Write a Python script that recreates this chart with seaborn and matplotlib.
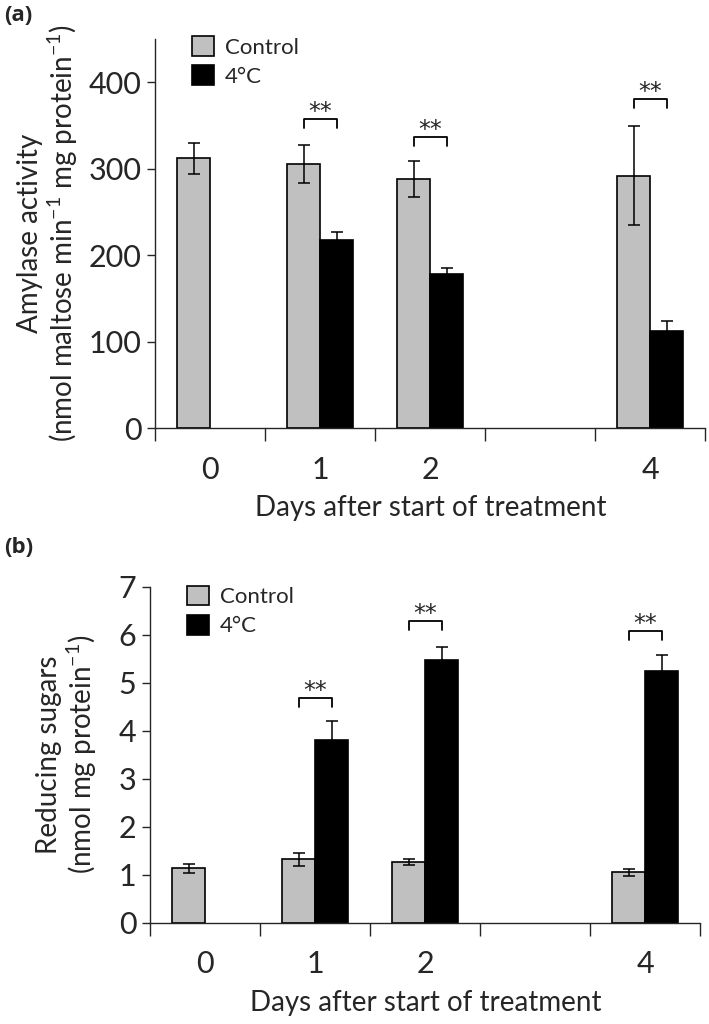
import numpy as np
import pandas as pd
import matplotlib
matplotlib.use("Agg")
import matplotlib.pyplot as plt
import seaborn as sns

# categories (day 3 is an empty slot on the axis)
days = ["0", "1", "2", "3", "4"]
tick_labels = ["0", "1", "2", "", "4"]
groups = ["Control", "4°C"]
colors = {"Control": "#c0c0c0", "4°C": "black"}

# panel (a) amylase activity
amy_day = ["0", "1", "2", "4", "1", "2", "4"]
amy_group = ["Control"] * 4 + ["4°C"] * 3
amy_mean = [312, 305, 288, 292, 218, 178, 112]
amy_err = [18, 22, 21, 57, 9, 7, 12]
amy_sig_day = ["1", "2", "4"]
amy_sig_y = [347, 326, 370]

# panel (b) reducing sugars
sug_day = ["0", "1", "2", "4", "1", "2", "4"]
sug_group = ["Control"] * 4 + ["4°C"] * 3
sug_mean = [1.13, 1.32, 1.27, 1.05, 3.80, 5.47, 5.24]
sug_err = [0.09, 0.14, 0.06, 0.07, 0.40, 0.28, 0.33]
sug_sig_day = ["1", "2", "4"]
sug_sig_y = [4.50, 6.10, 5.89]

sns.set_style("ticks")
plt.rcParams["font.family"] = ["Lato", "DejaVu Sans"]
plt.rcParams["mathtext.fontset"] = "custom"
plt.rcParams["mathtext.rm"] = "Lato"
plt.rcParams["mathtext.it"] = "Lato:italic"
plt.rcParams["mathtext.bf"] = "Lato:bold"
plt.rcParams["axes.linewidth"] = 1.0


def draw_panel(ax, day, grp, mean, err, sig_day, sig_y, leg_h, ymax, yticks, ylabel, labelpad):
    df = pd.DataFrame({"day": day, "group": grp, "value": mean, "err": err})
    sns.barplot(data=df, x="day", y="value", hue="group", order=days, hue_order=groups,
                palette=colors, width=0.6, saturation=1, edgecolor="black",
                linewidth=1.2, errorbar=None, ax=ax)

    # error bars and bracket positions taken from the drawn bars
    pos = {}
    for p in ax.patches:
        h = p.get_height()
        if not np.isfinite(h) or h == 0:
            continue
        hit = np.where(np.isclose(df["value"], h))[0]
        if len(hit) == 0:
            continue
        row = df.iloc[hit[0]]
        cx = p.get_x() + p.get_width() / 2
        pos[(row["day"], row["group"])] = cx
        ax.errorbar(cx, h, yerr=row["err"], fmt="none", ecolor="black",
                    elinewidth=1.1, capsize=4, capthick=1.1, zorder=3)

    for d, y in zip(sig_day, sig_y):
        x0, x1 = pos[(d, "Control")], pos[(d, "4°C")]
        ax.plot([x0, x0, x1, x1], [y, y + leg_h, y + leg_h, y], color="black", lw=1.3)
        ax.annotate("**", xy=((x0 + x1) / 2, y + leg_h), xytext=(0, 0),
                    textcoords="offset points", ha="center", va="baseline",
                    fontsize=17, family="DejaVu Sans")

    ax.set_xlim(-0.5, 4.5)
    ax.set_ylim(0, ymax)
    ax.set_yticks(yticks)
    ax.set_xticks(range(len(days)))
    ax.set_xticklabels(tick_labels)
    ax.set_xticks(np.arange(-0.5, len(days), 1), minor=True)
    ax.tick_params(axis="x", which="major", length=0, pad=20, labelsize=22)
    ax.tick_params(axis="x", which="minor", length=9, width=1.0)
    ax.tick_params(axis="y", length=6, width=1.0, pad=4, labelsize=22)
    ax.set_xlabel("Days after start of treatment", fontsize=20, labelpad=8)
    ax.set_ylabel(ylabel, fontsize=20, labelpad=labelpad, linespacing=1.1)
    sns.despine(ax=ax)

    handles, labels = ax.get_legend_handles_labels()
    ax.legend(handles, labels, loc="upper left", bbox_to_anchor=(0.05, 1.03), frameon=False,
              fontsize=16, handlelength=1.0, handleheight=1.0, handletextpad=0.5,
              labelspacing=0.35, borderaxespad=0)


fig = plt.figure(figsize=(7.09, 10.24), dpi=100)
ax1 = fig.add_axes([0.219, 0.582, 0.776, 0.380])
ax2 = fig.add_axes([0.212, 0.099, 0.776, 0.328])

draw_panel(ax1, amy_day, amy_group, amy_mean, amy_err, amy_sig_day, amy_sig_y, 10,
           450, [0, 100, 200, 300, 400],
           "Amylase activity\n(nmol maltose min$^{-1}$ mg protein$^{-1}$)", 6)
draw_panel(ax2, sug_day, sug_group, sug_mean, sug_err, sug_sig_day, sug_sig_y, 0.19,
           7, range(8), "Reducing sugars\n(nmol mg protein$^{-1}$)", 14)

fig.text(0.006, 0.985, "(a)", fontsize=16, fontweight="bold", va="center",
         family=["Open Sans", "DejaVu Sans"])
fig.text(0.006, 0.465, "(b)", fontsize=16, fontweight="bold", va="center",
         family=["Open Sans", "DejaVu Sans"])

fig.savefig("out.png", dpi=100)
